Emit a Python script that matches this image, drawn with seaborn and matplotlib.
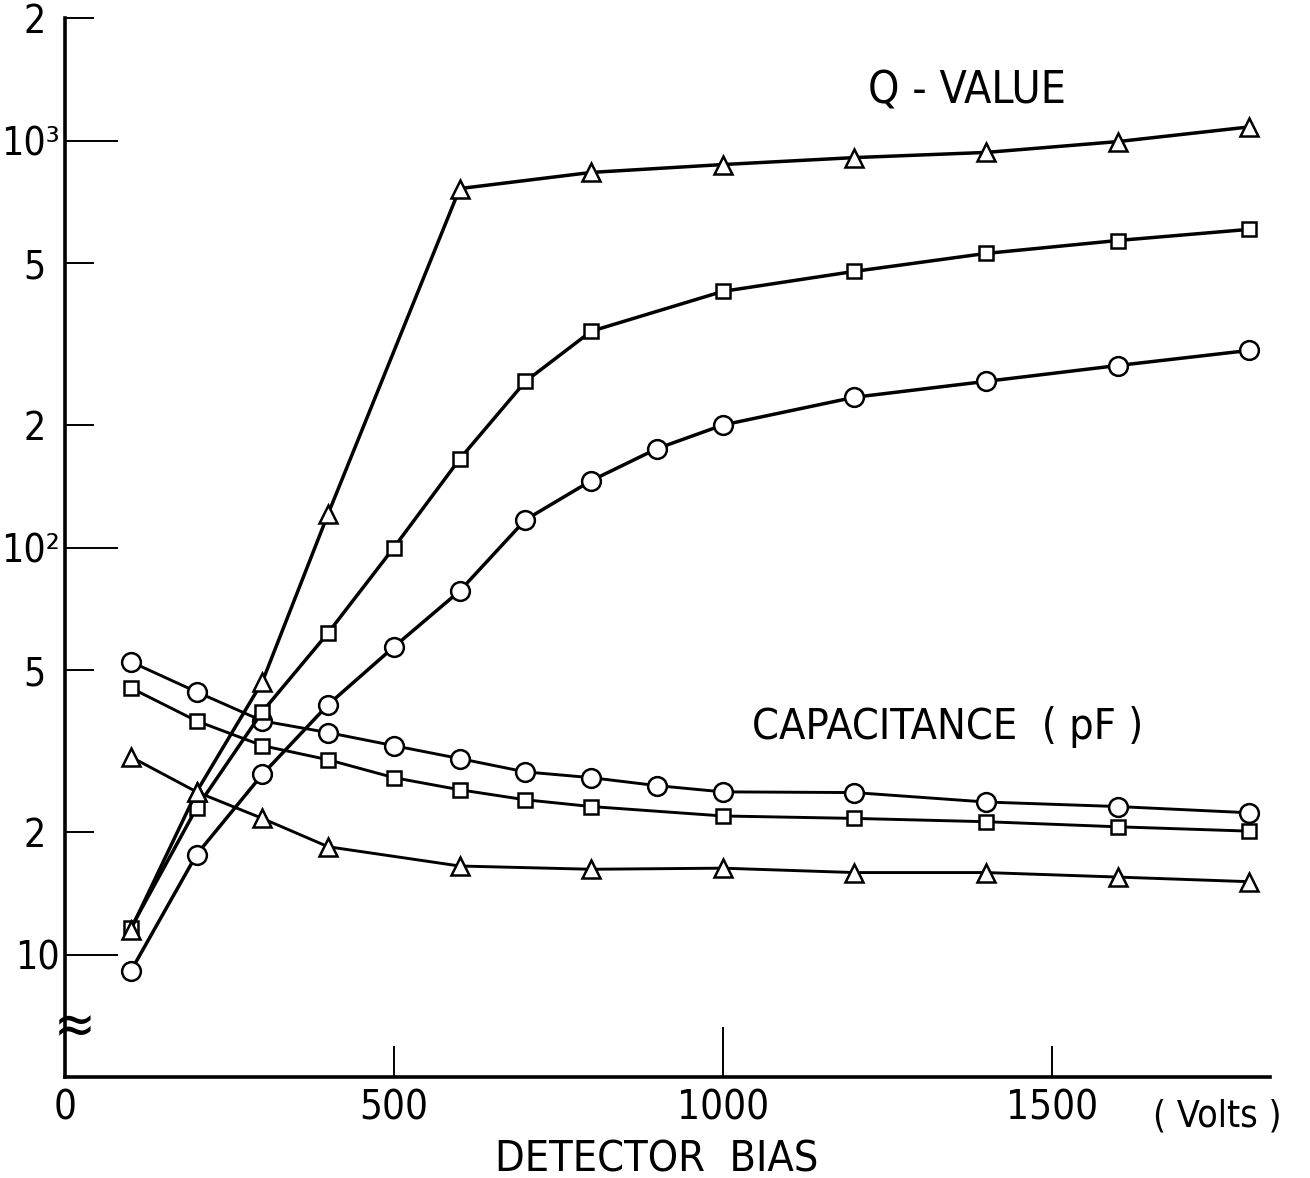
import matplotlib
matplotlib.use("Agg")
import matplotlib.pyplot as plt
import seaborn as sns
import pandas as pd

# Q-value curves (three detectors)
bias_q_tri = [100, 200, 300, 400, 600, 800, 1000, 1200, 1400, 1600, 1800]
q_tri = [11.5, 25.1, 46.8, 121, 762, 835, 873, 908, 935, 994, 1080]

bias_q_sq = [100, 200, 300, 400, 500, 600, 700, 800, 1000, 1200, 1400, 1600, 1800]
q_sq = [11.6, 22.9, 39.5, 61.7, 100, 165, 256, 340, 426, 477, 528, 568, 605]

bias_q_circ = [100, 200, 300, 400, 500, 600, 700, 800, 900, 1000, 1200, 1400, 1600, 1800]
q_circ = [9.1, 17.6, 27.7, 41.1, 57.0, 78.2, 117, 146, 175, 200, 234, 256, 280, 305]

# Capacitance curves (pF)
bias_c_circ = [100, 200, 300, 400, 500, 600, 700, 800, 900, 1000, 1200, 1400, 1600, 1800]
c_circ = [52.4, 44.2, 37.5, 35.1, 32.6, 30.3, 28.1, 27.2, 26.0, 25.1, 25.0, 23.7, 23.1, 22.3]

bias_c_sq = [100, 200, 300, 400, 500, 600, 700, 800, 1000, 1200, 1400, 1600, 1800]
c_sq = [45.2, 37.5, 32.6, 30.1, 27.2, 25.4, 24.0, 23.1, 21.9, 21.6, 21.2, 20.6, 20.1]

bias_c_tri = [100, 200, 300, 400, 600, 800, 1000, 1200, 1400, 1600, 1800]
c_tri = [30.6, 25.1, 21.6, 18.4, 16.5, 16.2, 16.3, 15.9, 15.9, 15.5, 15.1]

y_ticks_major = [10, 100, 1000]
y_ticks_minor = [20, 50, 200, 500, 2000]
y_labels_major = ["10", "10²", "10³"]
y_labels_minor = ["2", "5", "2", "5", "2"]
x_ticks = [0, 500, 1000, 1500]

sns.set_style("ticks")
plt.rcParams["font.family"] = ["DejaVu Sans"]
plt.rcParams["font.stretch"] = "condensed"
for key in ["text.color", "axes.labelcolor", "xtick.color", "ytick.color", "axes.edgecolor"]:
    plt.rcParams[key] = "black"

fig = plt.figure(figsize=(13.1, 11.78), dpi=100)
ax = fig.add_axes([0.0496, 0.0857, 0.92, 0.899])

series = [
    (bias_c_tri, c_tri, "^", 13, 2.1),
    (bias_c_sq, c_sq, "s", 10.5, 2.1),
    (bias_c_circ, c_circ, "o", 13.5, 2.1),
    (bias_q_circ, q_circ, "o", 13.5, 2.5),
    (bias_q_sq, q_sq, "s", 10.5, 2.5),
    (bias_q_tri, q_tri, "^", 13, 2.5),
]

for xs, ys, mk, ms, lw in series:
    df = pd.DataFrame({"bias": xs, "value": ys})
    sns.lineplot(data=df, x="bias", y="value", ax=ax, color="black",
                 linewidth=lw, marker=mk, markersize=ms,
                 markerfacecolor="white", markeredgecolor="black",
                 markeredgewidth=1.8)

ax.set_yscale("log")
ax.set_ylim(5, 2000)
ax.set_xlim(0, 1832)

ax.set_yticks(y_ticks_major)
ax.set_yticklabels(y_labels_major)
ax.set_yticks(y_ticks_minor, minor=True)
ax.set_yticklabels(y_labels_minor, minor=True)
ax.tick_params(axis="y", which="major", direction="in", length=38, width=1.4,
               labelsize=28, pad=4)
ax.tick_params(axis="y", which="minor", direction="in", length=21, width=1.4,
               labelsize=28, pad=14)

ax.set_xticks(x_ticks)
ax.set_xticklabels([str(v) for v in x_ticks])
ax.tick_params(axis="x", which="major", direction="in", length=22, width=1.4,
               labelsize=29, pad=8)
ax.xaxis.get_major_ticks()[2].tick1line.set_markersize(36)
ax.xaxis.get_major_ticks()[0].tick1line.set_markersize(0)

sns.despine(ax=ax)
for side in ["left", "bottom"]:
    ax.spines[side].set_linewidth(2.6)

ax.set_xlabel("DETECTOR  BIAS", fontsize=31)
ax.xaxis.set_label_coords(0.491, -0.058)
ax.set_ylabel("")

ax.text(1371, 1327, "Q - VALUE", fontsize=32, ha="center", va="center")
ax.text(1342, 36.3, "CAPACITANCE  ( pF )", fontsize=31, ha="center", va="center")
ax.text(1752, -0.037, "( Volts )", fontsize=27, ha="center", va="center",
        transform=ax.get_xaxis_transform())

# axis break mark
ax.text(15, 6.6, "≈", fontsize=40, ha="center", va="center", clip_on=False)

fig.savefig("out.png", dpi=100, facecolor="white")
